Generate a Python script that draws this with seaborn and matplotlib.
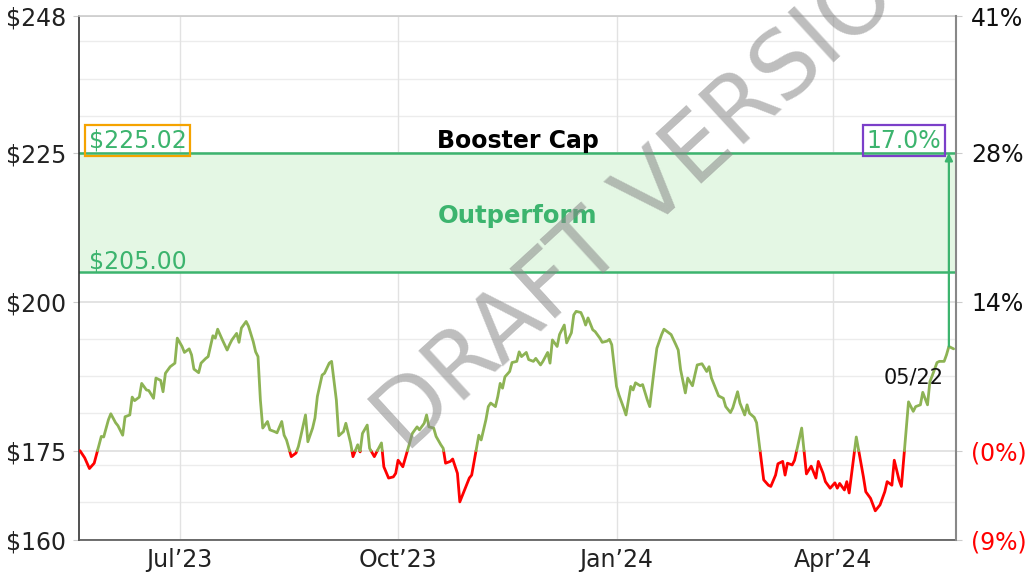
import numpy as np
import pandas as pd
import matplotlib
matplotlib.use('Agg')
import matplotlib.pyplot as plt
import matplotlib.transforms as mtransforms
import seaborn as sns

# ---- data ----
start_date = '2023-05-20'
day_offsets = [
    0, 2, 4, 6, 9, 10, 12, 13, 15, 16, 18, 19, 21, 22, 23, 25, 26, 28, 29, 31,
    32, 34, 35, 36, 38, 40, 41, 43, 44, 46, 47, 48, 50, 51, 53, 54, 56, 57, 58, 60,
    62, 63, 64, 66, 67, 68, 70, 71, 73, 74, 75, 76, 77, 79, 80, 82, 83, 85, 86, 87,
    89, 91, 92, 93, 95, 96, 98, 99, 100, 102, 103, 105, 106, 108, 109, 111, 112, 114, 115, 117,
    118, 119, 121, 122, 124, 125, 127, 128, 130, 132, 133, 134, 136, 137, 140, 142, 143, 145, 146, 147,
    149, 150, 152, 153, 154, 156, 157, 159, 160, 162, 164, 165, 168, 169, 171, 172, 173, 175, 176, 177,
    178, 179, 181, 182, 184, 185, 186, 188, 189, 191, 192, 194, 195, 197, 198, 199, 201, 202, 204, 205,
    207, 208, 209, 211, 212, 213, 214, 216, 217, 219, 220, 222, 223, 224, 226, 227, 229, 230, 232, 233,
    234, 236, 237, 239, 240, 242, 243, 245, 246, 248, 249, 251, 252, 253, 255, 256, 258, 259, 260, 262,
    264, 265, 266, 268, 269, 271, 272, 274, 275, 277, 278, 280, 281, 282, 284, 285, 288, 290, 291, 293,
    294, 296, 297, 298, 300, 301, 304, 306, 308, 310, 311, 313, 314, 316, 318, 319, 320, 322, 323, 324,
    327, 330, 331, 333, 335, 337, 339, 340, 342, 343, 345, 346, 349, 351, 352, 354, 355, 357, 358, 359,
    361, 362, 364, 365, 366, 368,
]
prices = [
    175.0, 173.8, 172.0, 172.9, 177.4, 177.3, 180.2, 181.2, 179.7, 179.2, 177.6, 180.7, 181.0, 184.0, 183.4, 184.0, 186.3, 185.2, 185.1, 183.8,
    187.2, 186.8, 184.9, 188.0, 189.1, 189.7, 193.9, 192.5, 191.5, 192.1, 191.1, 188.7, 188.1, 189.7, 190.5, 190.8, 194.3, 193.9, 195.4, 193.6,
    191.9, 192.8, 193.6, 194.7, 193.2, 195.6, 196.7, 195.9, 193.3, 191.6, 190.8, 183.5, 178.8, 179.9, 178.5, 178.2, 178.0, 179.9, 177.6, 176.8,
    174.0, 174.6, 175.7, 177.4, 181.0, 176.5, 178.8, 180.5, 184.1, 187.7, 188.0, 189.7, 190.0, 183.5, 177.5, 178.2, 179.6, 176.3, 174.0, 176.0,
    174.8, 177.9, 179.3, 175.4, 174.0, 174.8, 176.3, 172.3, 170.4, 170.6, 171.2, 173.4, 172.3, 173.7, 177.9, 179.0, 178.5, 179.6, 181.0, 179.0,
    178.8, 177.4, 176.0, 175.4, 172.9, 173.2, 173.6, 171.2, 166.4, 168.4, 170.4, 170.9, 177.6, 176.8, 180.2, 182.4, 183.0, 182.4, 184.1, 186.3,
    185.5, 187.4, 188.3, 189.8, 190.0, 191.6, 190.8, 191.5, 190.3, 190.0, 190.5, 189.4, 190.0, 191.5, 189.7, 193.6, 192.5, 194.5, 196.1, 193.1,
    194.8, 197.8, 198.4, 198.2, 197.3, 196.1, 197.3, 195.3, 195.0, 193.9, 193.2, 193.4, 193.7, 192.8, 185.8, 184.4, 182.2, 181.0, 185.8, 185.2,
    186.4, 185.9, 186.1, 183.5, 182.4, 189.1, 192.2, 194.5, 195.4, 194.8, 194.5, 192.8, 191.9, 188.6, 184.7, 187.2, 185.9, 187.7, 189.4, 189.6,
    188.3, 189.1, 187.2, 185.2, 184.2, 183.8, 182.4, 181.4, 182.2, 184.9, 183.0, 181.0, 182.7, 181.3, 180.6, 179.7, 170.1, 169.2, 169.0, 170.9,
    172.8, 173.2, 170.9, 172.9, 172.6, 173.4, 178.8, 171.1, 172.4, 170.4, 173.2, 171.2, 169.8, 168.7, 169.6, 168.7, 169.5, 168.4, 169.8, 167.9,
    177.3, 170.6, 168.1, 167.0, 164.9, 165.9, 168.1, 169.8, 169.2, 173.4, 170.1, 169.0, 183.2, 181.6, 182.4, 182.7, 184.8, 182.7, 186.6, 187.6,
    189.8, 190.0, 190.0, 191.1, 192.5, 192.1,
]

base_price = 175.0
outperform_low = 205.00
booster_cap = 225.02
left_ticks = [160, 175, 200, 225, 248]
left_labels = ['$160', '$175', '$200', '$225', '$248']
right_labels = ['(9%)', '(0%)', '14%', '28%', '41%']
minor_grid = [166.4, 172.6, 181.25, 187.5, 193.75, 206.25, 212.5, 218.75, 231.25, 237.5, 243.75]
month_ticks = ['2023-07-01', '2023-10-01', '2024-01-01', '2024-04-01']
month_labels = ['Jul\u201923', 'Oct\u201923', 'Jan\u201924', 'Apr\u201924']
last_label = '05/22'
cap_pct_label = '17.0%'

GREEN_LINE = '#8db354'
RED_LINE = '#ff0000'
BAND = '#3cb46e'

dates = pd.Timestamp(start_date) + pd.to_timedelta(day_offsets, unit='D')

# split line at the base price so the part below is drawn red
xs = list(dates)
ys = list(prices)
pts_x, pts_y, zone = [xs[0]], [ys[0]], []
for i in range(len(xs) - 1):
    x0, x1, y0, y1 = xs[i], xs[i + 1], ys[i], ys[i + 1]
    if (y0 - base_price) * (y1 - base_price) < 0:
        t = (base_price - y0) / (y1 - y0)
        xc = x0 + (x1 - x0) * t
        zone.append('above' if y0 > base_price else 'below')
        pts_x.append(xc)
        pts_y.append(base_price)
        zone.append('above' if y1 > base_price else 'below')
    else:
        zone.append('above' if (y0 + y1) / 2 >= base_price else 'below')
    pts_x.append(x1)
    pts_y.append(y1)

rows = []
run = 0
for i, z in enumerate(zone):
    if i > 0 and z != zone[i - 1]:
        run += 1
    rows.append((run, z, pts_x[i], pts_y[i]))
    rows.append((run, z, pts_x[i + 1], pts_y[i + 1]))
line_df = pd.DataFrame(rows, columns=['run', 'zone', 'date', 'price']).drop_duplicates()

sns.set_style('white')
plt.rcParams['font.family'] = ['DejaVu Sans']

fig = plt.figure(figsize=(10.25, 5.72), dpi=100)
ax = fig.add_axes([79 / 1025, 1 - 540 / 572, 877 / 1025, 524 / 572])

ax.set_ylim(160, 248)
ax.set_xlim(pd.Timestamp(start_date) - pd.Timedelta(days=0.4),
            pd.Timestamp(start_date) + pd.Timedelta(days=369))

# grid
for g in minor_grid:
    ax.axhline(g, color='#ececec', lw=1, zorder=0)
for g in left_ticks:
    ax.axhline(g, color='#e0e0e0', lw=1.3, zorder=0)
for m in month_ticks:
    ax.axvline(pd.Timestamp(m), color='#e2e2e2', lw=1, zorder=0)

# outperform band
ax.axhspan(outperform_low, booster_cap, color='#e4f7e4', zorder=1, lw=0)
ax.axhline(booster_cap, color=BAND, lw=1.8, zorder=2)
ax.axhline(outperform_low, color=BAND, lw=1.8, zorder=2)

sns.lineplot(data=line_df, x='date', y='price', hue='zone', units='run',
             estimator=None, sort=False, legend=False, linewidth=2.0,
             palette={'above': GREEN_LINE, 'below': RED_LINE}, ax=ax, zorder=3)

# arrow from latest price up to the cap
ax.annotate('', xy=(dates[-2], booster_cap), xytext=(dates[-2], prices[-2]),
            arrowprops=dict(arrowstyle='-|>', color=BAND, lw=1.6,
                            mutation_scale=11, shrinkA=0, shrinkB=0), zorder=4)

trans = mtransforms.blended_transform_factory(ax.transAxes, ax.transData)
ax.text(0.5, booster_cap, 'Booster Cap', transform=trans, ha='center', va='bottom',
        fontsize=17, fontweight='bold', color='black', zorder=5)
ax.text(0.5, 214.4, 'Outperform', transform=trans, ha='center', va='center',
        fontsize=17.5, fontweight='bold', color=BAND, zorder=5)
ax.annotate(f'${booster_cap:.2f}', xy=(0.011, booster_cap), xycoords=trans,
            xytext=(0, 12), textcoords='offset pixels', ha='left', va='center',
            fontsize=17, color=BAND, zorder=5,
            bbox=dict(boxstyle='square,pad=0.15', fc='none', ec='#f5a300', lw=1.6))
ax.annotate(f'${outperform_low:.2f}', xy=(0.011, outperform_low), xycoords=trans,
            xytext=(0, 11), textcoords='offset pixels', ha='left', va='center',
            fontsize=17, color=BAND, zorder=5)
ax.annotate(cap_pct_label, xy=(0.983, booster_cap), xycoords=trans,
            xytext=(0, 12), textcoords='offset pixels', ha='right', va='center',
            fontsize=17, color=BAND, zorder=5,
            bbox=dict(boxstyle='square,pad=0.15', fc='none', ec='#7b3fc9', lw=1.6))
ax.annotate(last_label, xy=(dates[-1], prices[-1]), xytext=(-10, -29),
            textcoords='offset pixels', ha='right', va='center', fontsize=15,
            color='#111111', zorder=5)

# axes styling
ax.set_yticks(left_ticks)
ax.set_yticklabels(left_labels)
ax.set_xticks([pd.Timestamp(m) for m in month_ticks])
ax.set_xticklabels(month_labels)
ax.tick_params(axis='both', labelsize=17, colors='#222222', length=0, pad=6)
ax.tick_params(axis='y', length=4, color='#cccccc', pad=5, left=True)
ax.set_xlabel('')
ax.set_ylabel('')
ax.spines['top'].set_color('#cccccc')
ax.spines['left'].set_color('#333333')
ax.spines['bottom'].set_color('#555555')
ax.spines['right'].set_visible(False)
for s in ax.spines.values():
    s.set_linewidth(1.2)

ax2 = ax.twinx()
ax2.set_ylim(ax.get_ylim())
ax2.set_yticks(left_ticks)
ax2.set_yticklabels(right_labels)
ax2.tick_params(axis='y', labelsize=17, length=4, color='#cccccc', pad=7, right=True)
for lbl, txt in zip(ax2.get_yticklabels(), right_labels):
    lbl.set_color('#ff0000' if txt.startswith('(') else '#111111')
for side in ['top', 'left', 'bottom']:
    ax2.spines[side].set_visible(False)
ax2.spines['right'].set_color('#888888')
ax2.spines['right'].set_linewidth(1.5)
ax2.grid(False)

# watermark
fig.text(0.645, 0.675, 'DRAFT VERSION', fontsize=66, color='#888888', alpha=0.55,
         rotation=42.5, rotation_mode='anchor', ha='center', va='center', zorder=10)

fig.savefig('out.png', dpi=100)
